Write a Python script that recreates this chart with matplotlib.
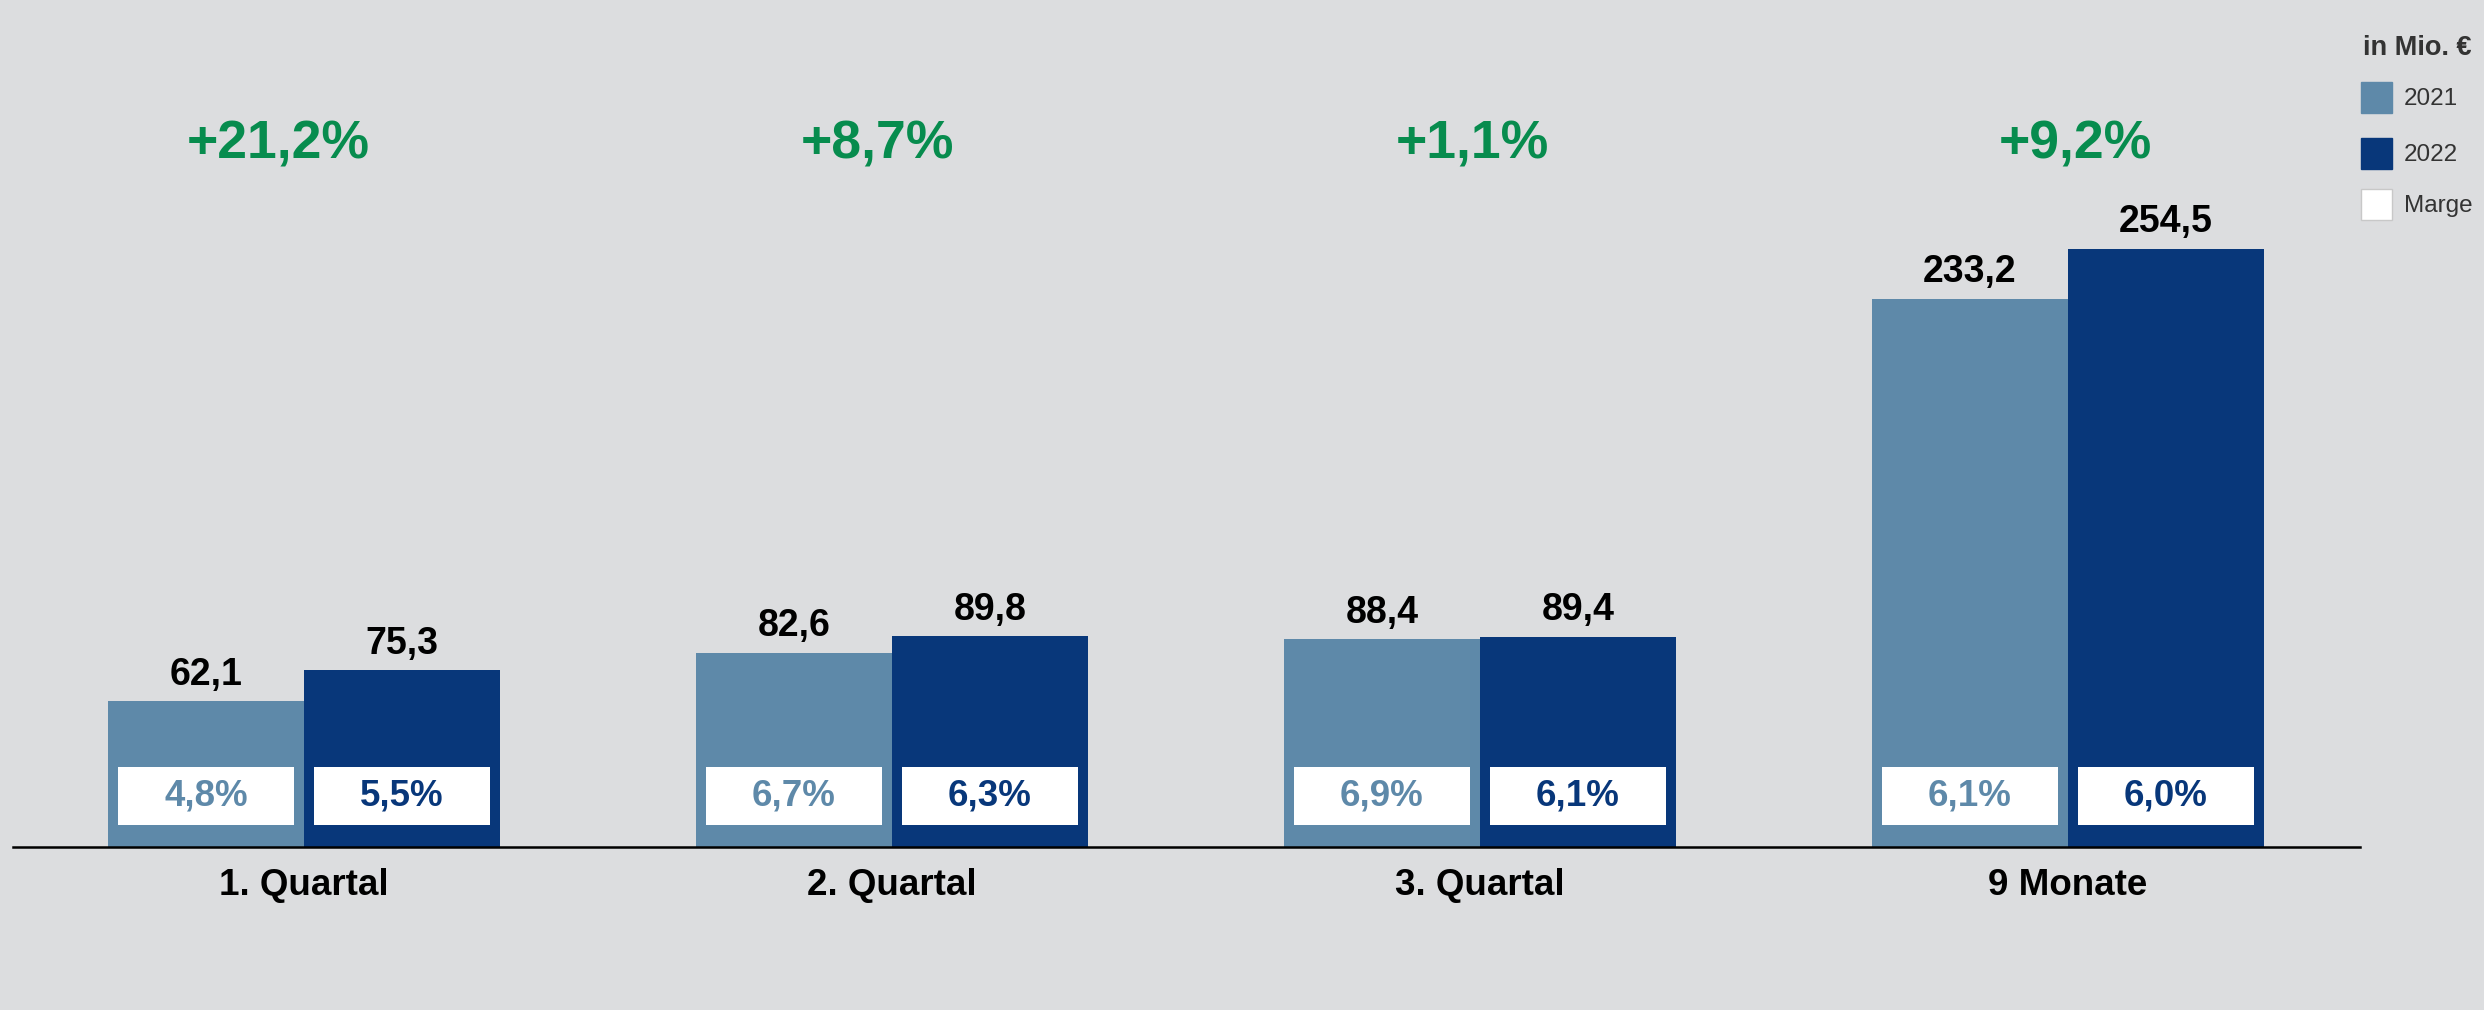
import numpy as np
import matplotlib
matplotlib.use("Agg")
import matplotlib.pyplot as plt
import matplotlib.transforms as mtransforms
from matplotlib.patches import Rectangle

# Data
categories = ["1. Quartal", "2. Quartal", "3. Quartal", "9 Monate"]
values_2021 = [62.1, 82.6, 88.4, 233.2]
values_2022 = [75.3, 89.8, 89.4, 254.5]
marge_2021 = ["4,8%", "6,7%", "6,9%", "6,1%"]
marge_2022 = ["5,5%", "6,3%", "6,1%", "6,0%"]
growth = ["+21,2%", "+8,7%", "+1,1%", "+9,2%"]
legend_labels = ["2021", "2022", "Marge"]
legend_title = "in Mio. €"

# Style
BG = "#DCDDDF"
C2021 = "#5E89A9"
C2022 = "#08377A"
GREEN = "#078C4E"
FONT = "Liberation Sans"

plt.rcParams["font.family"] = [FONT, "DejaVu Sans"]

W, H, DPI = 2484, 1010, 100
fig = plt.figure(figsize=(W / DPI, H / DPI), dpi=DPI, facecolor=BG)

# axes box in pixels: x 13..2360, baseline y=847, top y=71
ax = fig.add_axes([13 / W, (H - 847) / H, (2360 - 13) / W, (847 - 71) / H])
ax.set_facecolor(BG)
ax.set_xlim(-0.495, 3.497)
ax.set_ylim(0, 330)

x = np.arange(len(categories))
bw = 0.333

b1 = ax.bar(x - bw / 2, values_2021, width=bw, color=C2021, zorder=2)
b2 = ax.bar(x + bw / 2, values_2022, width=bw, color=C2022, zorder=2)

# white margin boxes inside bars
box_w = 0.30
box_bottom = 9.4
box_h = 24.6
for xs, labels, col in [(x - bw / 2, marge_2021, C2021), (x + bw / 2, marge_2022, C2022)]:
    ax.bar(xs, [box_h] * len(xs), bottom=box_bottom, width=box_w, color="white", zorder=3)
    for xi, lab in zip(xs, labels):
        ax.text(xi, box_bottom + box_h / 2, lab, ha="center", va="center",
                fontsize=26.5, fontweight="bold", color=col, zorder=4)

# value labels above bars
for bars, vals in [(b1, values_2021), (b2, values_2022)]:
    for bar, v in zip(bars, vals):
        ax.annotate(f"{v:.1f}".replace(".", ","),
                    (bar.get_x() + bar.get_width() / 2, bar.get_height()),
                    xytext=(0, 6), textcoords="offset points",
                    ha="center", va="bottom", fontsize=27, fontweight="bold",
                    color="black", zorder=4)

# growth labels (spaced slightly wider than the groups, as in the original)
growth_shift = [-0.043, -0.024, -0.013, 0.013]
trans = mtransforms.blended_transform_factory(ax.transData, ax.transAxes)
for xi, dx, g in zip(x, growth_shift, growth):
    ax.text(xi + dx, 0.905, g, transform=trans, ha="center", va="center",
            fontsize=38.5, fontweight="bold", color=GREEN)

# axis styling
for s in ["top", "right", "left"]:
    ax.spines[s].set_visible(False)
ax.spines["bottom"].set_color("black")
ax.spines["bottom"].set_linewidth(1.8)
ax.spines["bottom"].set_zorder(5)
ax.set_yticks([])
ax.set_xticks(x)
ax.set_xticklabels(categories, fontsize=26.5, fontweight="bold")
ax.tick_params(axis="x", length=0, pad=15)

# legend (manual)
fig.text(2363 / W, 1 - 48 / H, legend_title, ha="left", va="center",
         fontsize=19.5, fontweight="bold", color="#333333")
leg_colors = [C2021, C2022, "white"]
leg_tops = [82, 138, 189]
for col, top, lab in zip(leg_colors, leg_tops, legend_labels):
    fig.patches.append(Rectangle((2361 / W, 1 - (top + 31) / H), 31 / W, 31 / H,
                                 transform=fig.transFigure, facecolor=col,
                                 edgecolor="#C8C8C8" if col == "white" else col,
                                 linewidth=1))
    fig.text(2404 / W, 1 - (top + 17) / H, lab, ha="left", va="center",
             fontsize=17.5, color="#333333")

fig.savefig("out.png", dpi=DPI, facecolor=BG)
